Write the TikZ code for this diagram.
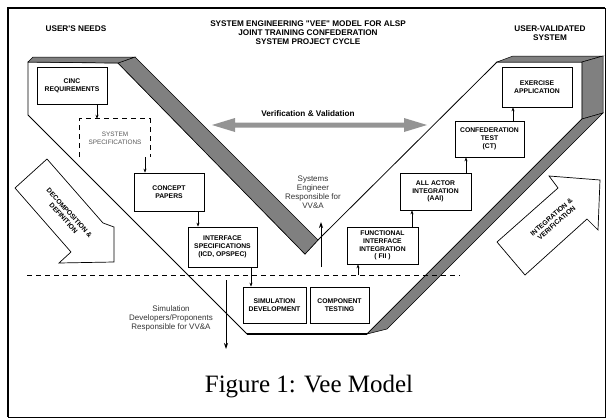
\documentclass[tikz,border=0pt]{standalone}
\usepackage{fontspec}
\setmainfont{Liberation Serif}
\newfontfamily\lsans{Liberation Sans}
\usetikzlibrary{arrows.meta,calc}
\begin{document}
\begin{tikzpicture}[x=1pt,y=-1pt,
  bxfont/.style={font=\lsans\bfseries\fontsize{6.8}{7.8}\selectfont},
  box/.style={draw, line width=0.7pt, fill=white, align=center, inner sep=0pt, bxfont},
  arr/.style={line width=0.6pt, -{Stealth[length=4pt,width=3pt]}},
  bigarr/.style={line width=0.8pt, -{Stealth[length=6pt,width=4pt]}},
  shadeface/.style={fill=black!50, draw=black, line width=0.5pt},
  vedge/.style={draw=black, line width=0.8pt},
  blk/.style={draw=black, line width=0.7pt, fill=white},
  lbl/.style={font=\lsans\bfseries\fontsize{8.2}{9}\selectfont, align=center, inner sep=0pt},
  note/.style={font=\lsans\fontsize{8}{9}\selectfont, align=center, inner sep=0pt, text=black!80}
]
\useasboundingbox (0,0) rectangle (606,418);
% frame
\draw[line width=0.8pt] (8,8) rectangle (605,417);
\draw[line width=2pt] (8,417) -- (8,8) -- (605,8);

% V front face
\draw[vedge, fill=white] (28,62) -- (118,63) -- (305,254) -- (318,240) -- (497,62) -- (582,62) -- (582,119) -- (367,334) -- (247,334) -- (28,115) -- cycle;
\draw[line width=1.6pt] (247,334) -- (367,334);
% shaded faces
\draw[shadeface] (118,63) -- (135,57) -- (318,240) -- (305,254) -- cycle;
\draw[shadeface] (28,62) -- (33,57) -- (135,57) -- (118,63) -- cycle;
\draw[shadeface] (497,62) -- (513,56) -- (603,56) -- (582,62) -- cycle;
\draw[shadeface] (582,62) -- (603,56) -- (603,113) -- (582,119) -- cycle;
\draw[shadeface] (582,119) -- (603,113) -- (387,329) -- (367,334) -- cycle;

% block arrows
\draw[blk] (15,188) -- (47,159) -- (103,223) -- (114,227) -- (114,262) -- (59,263) -- (71,252) -- cycle;
\node[bxfont, rotate=-48, align=center, inner sep=0pt] (decomp) at (66.5,215.5) {DECOMPOSITION \&\\DEFINITION};
\draw[blk] (549,176) -- (600,180) -- (598,230) -- (587,219) -- (525,275) -- (497,242) -- (558,188) -- cycle;
\node[bxfont, rotate=41, align=center, inner sep=0pt] (integ) at (554,220) {INTEGRATION \&\\VERIFICATION};

% verification & validation double arrow
\fill[black!42] (212,125) -- (235,118) -- (235,122.5) -- (404,122.5) -- (404,118) -- (427,125) -- (404,132) -- (404,127.5) -- (235,127.5) -- (235,132) -- cycle;
\node[lbl] (vv) at (308,114) {Verification \& Validation};

% dashed line
\coordinate (dlL) at (27,275);
\coordinate (dlR) at (460,275);
\draw[dash pattern=on 5pt off 4pt, line width=0.7pt] (dlL) -- (dlR);

% boxes
\node[box, minimum width=70, minimum height=37] (cinc) at (72,85.5) {CINC\\REQUIREMENTS};
\node[align=center, inner sep=0pt, minimum width=70, minimum height=38, font=\lsans\fontsize{6.4}{8}\selectfont, text=black!65] (sysspec) at (115,138) {SYSTEM\\SPECIFICATIONS};
\draw[dash pattern=on 5pt off 4pt, line width=0.7pt] (sysspec.south west) -- (sysspec.north west) -- (sysspec.north east) -- (sysspec.south east);
\node[box, minimum width=70, minimum height=38] (concept) at (169,192) {CONCEPT\\PAPERS};
\node[box, minimum width=69, minimum height=40] (iface) at (222.5,247) {INTERFACE\\SPECIFICATIONS\\(ICD, OPSPEC)};
\node[box, minimum width=63, minimum height=36] (simdev) at (274.5,305) {SIMULATION\\DEVELOPMENT};
\node[box, minimum width=59, minimum height=36] (comp) at (339.5,305) {COMPONENT\\TESTING};
\node[box, minimum width=71, minimum height=37] (fii) at (382.5,245.5) {FUNCTIONAL\\INTERFACE\\INTEGRATION\\( FII )};
\node[box, minimum width=71, minimum height=37] (aai) at (435.5,191.5) {ALL ACTOR\\INTEGRATION\\(AAI)};
\node[box, minimum width=69, minimum height=36] (ct) at (489.5,139) {CONFEDERATION\\TEST\\(CT)};
\node[box, minimum width=70, minimum height=40] (exer) at (537,87) {EXERCISE\\APPLICATION};

% connectors
\draw[arr] ([xshift=25]cinc.south) -- ([xshift=25]cinc.south |- sysspec.north);
\draw[arr] ([xshift=30]sysspec.south) -- ([xshift=30]sysspec.south |- concept.north);
\draw[arr] ([xshift=29]concept.south) -- ([xshift=29]concept.south |- iface.north);
\draw[arr] ([xshift=28.5]iface.south) -- ([xshift=28.5]iface.south |- simdev.north);
\draw[arr] ([xshift=-24.5]fii.south |- dlL) -- ([xshift=-24.5]fii.south);
\draw[arr] ([xshift=29.5]fii.north) -- ([xshift=29.5]fii.north |- aai.south);
\draw[arr] ([xshift=30.5]aai.north) -- ([xshift=30.5]aai.north |- ct.south);
\draw[arr] ([xshift=23.5]ct.north) -- ([xshift=23.5]ct.north |- exer.south);

% responsibility notes
\node[note] (se) at (313,192.5) {Systems\\Engineer\\Responsible for\\VV\&A};
\coordinate (seS) at (321,267);
\coordinate (seE) at (321,222);
\draw[bigarr] (seS) -- (seE);
\node[note] (sd) at (171,318) {Simulation\\Developers/Proponents\\Responsible for VV\&A};
\coordinate (sdS) at (226,280);
\coordinate (sdE) at (226,349);
\draw[bigarr] (sdS) -- (sdE);

% headings
\node[lbl] (title) at (308,33) {SYSTEM ENGINEERING "VEE" MODEL FOR ALSP\\JOINT TRAINING CONFEDERATION\\SYSTEM PROJECT CYCLE};
\node[lbl] (needs) at (76,29) {USER'S NEEDS};
\node[lbl] (valid) at (550,33.5) {USER-VALIDATED\\SYSTEM};

% caption
\node[font=\fontsize{25}{30}\selectfont, anchor=base, inner sep=0pt] (cap) at (309,392) {Figure 1: Vee Model};
\end{tikzpicture}
\end{document}
